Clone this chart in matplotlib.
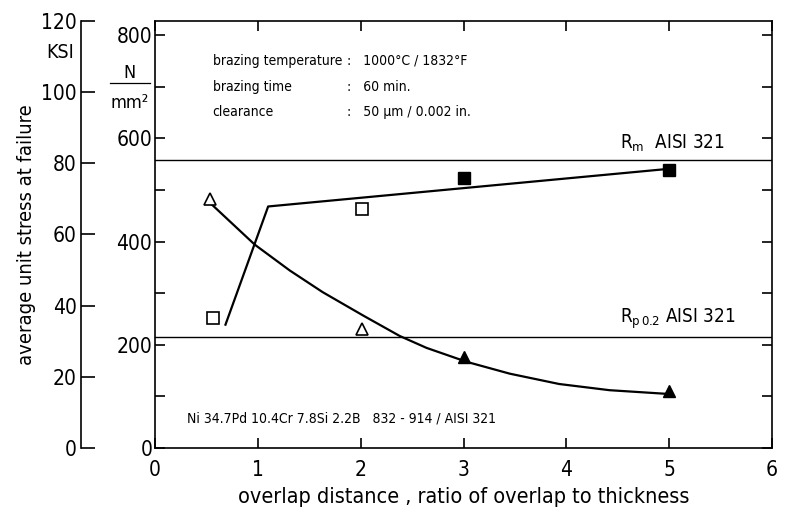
import matplotlib
matplotlib.use("Agg")
import matplotlib.pyplot as plt
from matplotlib.ticker import FixedLocator, FuncFormatter

plt.rcParams['font.family'] = ['DejaVu Sans']
plt.rcParams['font.stretch'] = 'condensed'

# conversion N/mm^2 per ksi
KSI = 6.895

# measured points (overlap ratio, N/mm^2)
open_sq_x = [0.56, 2.01]
open_sq_y = [251, 464]
fill_sq_x = [3.0, 5.0]
fill_sq_y = [523, 538]
open_tri_x = [0.53, 2.01]
open_tri_y = [482, 230]
fill_tri_x = [3.0, 5.0]
fill_tri_y = [177, 110]

# drawn trend lines
sq_line_x = [0.685, 1.10, 5.0]
sq_line_y = [239, 468, 541]
tri_line_x = [0.54, 0.97, 1.31, 1.63, 2.03, 2.38, 2.64, 3.03, 3.45, 3.93, 4.42, 4.97]
tri_line_y = [474, 394, 344, 302, 256, 217, 194, 167, 144, 124, 112, 105]

rm_level = 558
rp_level = 215

fig = plt.figure(figsize=(7.85, 5.12), dpi=100)
ax = fig.add_axes([0.1975, 0.125, 0.786, 0.834])

ax.plot(sq_line_x, sq_line_y, color='black', lw=1.6)
ax.plot(tri_line_x, tri_line_y, color='black', lw=1.6)
ax.axhline(rm_level, color='black', lw=1.0)
ax.axhline(rp_level, color='black', lw=1.0)

ax.plot(open_sq_x, open_sq_y, 's', ms=8, mfc='white', mec='black', mew=1.2)
ax.plot(fill_sq_x, fill_sq_y, 's', ms=8, mfc='black', mec='black')
ax.plot(open_tri_x, open_tri_y, '^', ms=9, mfc='white', mec='black', mew=1.2)
ax.plot(fill_tri_x, fill_tri_y, '^', ms=9, mfc='black', mec='black')

ax.set_xlim(0, 6)
ax.set_ylim(0, 120 * KSI)

for s in ax.spines.values():
    s.set_linewidth(1.2)

ax.set_xticks([0, 1, 2, 3, 4, 5, 6])
ax.set_yticks(list(range(0, 801, 100)))
ax.yaxis.set_major_formatter(FuncFormatter(lambda v, p: f"{int(v)}" if v % 200 == 0 else ""))
ax.tick_params(direction='in', length=7, width=1.2, labelsize=15, top=True, right=True)
ax.tick_params(axis='x', pad=9)
ax.tick_params(axis='y', pad=2)

ax.set_xlabel("overlap distance , ratio of overlap to thickness", fontsize=15.5, labelpad=5)

# ksi axis
sec = ax.secondary_yaxis(-0.12, functions=(lambda v: v / KSI, lambda v: v * KSI))
sec.yaxis.set_major_locator(FixedLocator([0, 20, 40, 60, 80, 100, 120]))
sec.tick_params(direction='in', length=10, width=1.2, labelsize=15, pad=3)
sec.spines['left'].set_linewidth(1.2)
sec.set_ylabel("average unit stress at failure", fontsize=14.5, labelpad=4)

fig.text(0.076, 0.897, "KSI", fontsize=14, ha='center', va='center')
fig.text(0.165, 0.857, "N", fontsize=13, ha='center', va='center')
fig.text(0.165, 0.799, "mm²", fontsize=13, ha='center', va='center')
fig.add_artist(plt.Line2D([0.140, 0.191], [0.838, 0.838], color='black', lw=0.9))

tfs = 10
ax.text(0.56, 750, "brazing temperature", fontsize=tfs, va='center')
ax.text(0.56, 700, "brazing time", fontsize=tfs, va='center')
ax.text(0.56, 651, "clearance", fontsize=tfs, va='center')
ax.text(1.87, 750, ":   1000°C / 1832°F", fontsize=tfs, va='center')
ax.text(1.87, 700, ":   60 min.", fontsize=tfs, va='center')
ax.text(1.87, 651, ":   50 µm / 0.002 in.", fontsize=tfs, va='center')

ax.text(0.31, 58, "Ni 34.7Pd 10.4Cr 7.8Si 2.2B   832 - 914 / AISI 321", fontsize=10, va='center')

ax.text(4.52, rm_level + 12, "R$_\\mathregular{m}$  AISI 321", fontsize=13.5, va='bottom')
ax.text(4.52, rp_level + 12, "R$_\\mathregular{p\\,0.2}$ AISI 321", fontsize=13.5, va='bottom')

fig.savefig("out.png", dpi=100)
